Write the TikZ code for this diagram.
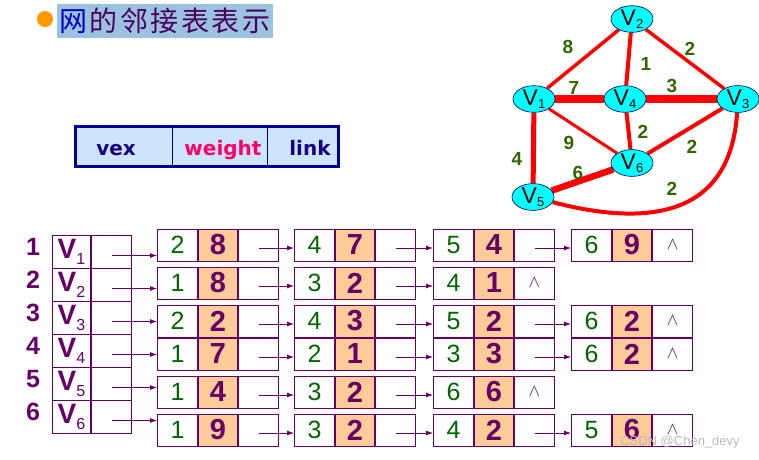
\documentclass[tikz,border=0pt]{standalone}
\usepackage{fontspec}
\setmainfont{Liberation Sans}
\newfontfamily\cjkfont{Noto Sans CJK SC}
\newfontfamily\legfont{DejaVu Sans}
\usetikzlibrary{shapes.geometric,arrows.meta,backgrounds}
\definecolor{pur}{RGB}{102,0,102}
\definecolor{grn}{RGB}{0,102,0}
\definecolor{org}{RGB}{255,204,153}
\definecolor{elab}{RGB}{51,102,0}
\definecolor{cyanv}{RGB}{0,255,255}
\definecolor{navy}{RGB}{0,0,153}
\definecolor{legtext}{RGB}{26,0,128}
\definecolor{legfill}{RGB}{204,228,252}
\definecolor{titlebg}{RGB}{155,194,222}
\definecolor{titletxt}{RGB}{75,0,95}
\definecolor{titleblue}{RGB}{0,0,204}
\definecolor{pinkw}{RGB}{255,0,102}
\definecolor{dotorange}{RGB}{255,153,0}
\definecolor{wedgec}{RGB}{80,0,140}
\newcommand\tch[1]{\makebox[30.5pt]{#1}}
\newcommand\ebox[6]{%
  \node[adjc] (#1a) at (#2,#3+16) {#4};
  \node[wtc] (#1b) at (#1a.east) {#5};
  \node[lnkc] (#1c) at (#1b.east) {#6};
}
\newcommand\earr[2]{\draw[arr] ([yshift=-3pt]#1c.center) -- ([yshift=-3pt]#2a.west);}
\newcommand\gsub[1]{V\raisebox{-3pt}{\fontsize{13}{13}\selectfont #1}}
\begin{document}
\begin{tikzpicture}[x=1pt,y=-1pt,
  cell/.style={draw=pur, line width=1pt, minimum width=40pt, minimum height=32pt, inner sep=0pt, anchor=west},
  adjc/.style={cell, text=grn, font=\fontsize{25}{25}\selectfont},
  wtc/.style={cell, fill=org, minimum width=39pt, text=pur, font=\bfseries\fontsize{29}{29}\selectfont},
  lnkc/.style={cell, text=wedgec, font=\fontsize{19}{19}\selectfont},
  arr/.style={draw=pur, line width=0.8pt, -{Latex[length=7pt,width=5pt]}},
  vname/.style={draw=pur, line width=1pt, minimum width=38pt, minimum height=33pt, inner sep=0pt, text=pur, anchor=north west},
  vlink/.style={draw=pur, line width=1pt, minimum width=40pt, minimum height=33pt, inner sep=0pt, anchor=west},
  idx/.style={text=pur, font=\bfseries\fontsize{25}{25}\selectfont},
  gv/.style={ellipse, draw=navy!60!black, line width=0.6pt, fill=cyanv, minimum width=42pt, minimum height=26pt, inner sep=0pt, font=\fontsize{23}{23}\selectfont},
  elabel/.style={text=elab, font=\bfseries\fontsize{19}{19}\selectfont},
  redge/.style={draw=red, line width=#1},
  legtxt/.style={font=\legfont\bfseries\fontsize{20}{20}\selectfont, anchor=base, inner sep=0pt}
]
\useasboundingbox (0,0) rectangle (759,459);

% title
\fill[titlebg] (57,4) rectangle (273,38);
\fill[dotorange] (45,19) circle (8);
\node[font=\cjkfont\fontsize{28}{28}\selectfont, anchor=west, inner sep=0pt] (title) at (58,21)
  {\textcolor{titleblue}{\tch{网}}\textcolor{titletxt}{\tch{的}\tch{邻}\tch{接}\tch{表}\tch{表}\tch{示}}};

% legend
\node[draw=navy, line width=3pt, fill=legfill, minimum width=263pt, minimum height=40pt, inner sep=0pt] (legend) at (207,146) {};
\draw[navy, line width=1pt] (172,127.5) -- (172,164.5);
\draw[navy, line width=1pt] (267,127.5) -- (267,164.5);
\node[legtxt, text=legtext] (tvex) at (116,155) {vex};
\node[legtxt, text=pinkw] (twt) at (223,155) {weight};
\node[legtxt, text=legtext] (tlink) at (310,155) {link};

% graph
\node[gv] (g2) at (632,19) {\gsub{2}};
\node[gv] (g1) at (534,99) {\gsub{1}};
\node[gv] (g4) at (625,99) {\gsub{4}};
\node[gv] (g3) at (738,99) {\gsub{3}};
\node[gv] (g6) at (632,163) {\gsub{6}};
\node[gv] (g5) at (533,197) {\gsub{5}};
\begin{scope}[on background layer]
\draw[redge=3.5pt] (g2) -- (g1);
\draw[redge=3.5pt] (g2) -- (g3);
\draw[redge=4pt] (g2) -- (g4);
\draw[redge=7.5pt] (g1) -- (g4);
\draw[redge=7.5pt] (g4) -- (g3);
\draw[redge=3pt] (g1) -- (g6);
\draw[redge=4pt] (g4) -- (g6);
\draw[redge=4pt] (g6) -- (g3);
\draw[redge=5pt] (g1) -- (g5);
\draw[redge=6.5pt] (g5) -- (g6);
\draw[redge=4pt] (g5) .. controls (640,225) and (730,222) .. (g3);
\end{scope}
\node[elabel] (l8) at (568,47) {8};
\node[elabel] (l1) at (646,64) {1};
\node[elabel] (l2a) at (690,49) {2};
\node[elabel] (l7) at (574,88) {7};
\node[elabel] (l3) at (672,86) {3};
\node[elabel] (l2b) at (643,132) {2};
\node[elabel] (l9) at (569,143) {9};
\node[elabel] (l2c) at (692,147) {2};
\node[elabel] (l4) at (517,159) {4};
\node[elabel] (l6) at (578,173) {6};
\node[elabel] (l2d) at (672,189) {2};

% vertex table
\foreach \i in {1,...,6} {
  \node[idx] (n\i) at (33,{247+33*(\i-1)}) {\i};
  \node[vname] (tv\i) at (52,{235+33*(\i-1)}) {{\bfseries\fontsize{28}{28}\selectfont V}\raisebox{-6pt}{\fontsize{16}{16}\selectfont\i}};
  \node[vlink] (tl\i) at (tv\i.east) {};
  \coordinate (s\i) at ([yshift=-3.5pt]tl\i.center);
}

% edge lists
\ebox{r1-1}{157}{229}{2}{8}{}
\ebox{r1-2}{294}{229}{4}{7}{}
\ebox{r1-3}{433}{229}{5}{4}{}
\ebox{r1-4}{571}{229}{6}{9}{$\wedge$}
\ebox{r2-1}{157}{267}{1}{8}{}
\ebox{r2-2}{294}{267}{3}{2}{}
\ebox{r2-3}{433}{267}{4}{1}{$\wedge$}
\ebox{r3-1}{157}{305}{2}{2}{}
\ebox{r3-2}{294}{305}{4}{3}{}
\ebox{r3-3}{433}{305}{5}{2}{}
\ebox{r3-4}{571}{305}{6}{2}{$\wedge$}
\ebox{r4-1}{157}{338}{1}{7}{}
\ebox{r4-2}{294}{338}{2}{1}{}
\ebox{r4-3}{433}{338}{3}{3}{}
\ebox{r4-4}{571}{338}{6}{2}{$\wedge$}
\ebox{r5-1}{157}{376}{1}{4}{}
\ebox{r5-2}{294}{376}{3}{2}{}
\ebox{r5-3}{433}{376}{6}{6}{$\wedge$}
\ebox{r6-1}{157}{414}{1}{9}{}
\ebox{r6-2}{294}{414}{3}{2}{}
\ebox{r6-3}{433}{414}{4}{2}{}
\ebox{r6-4}{571}{414}{5}{6}{$\wedge$}

\foreach \i in {1,...,6} {
  \draw[arr] (s\i) -- (s\i -| r\i-1a.west);
}
\earr{r1-1}{r1-2}\earr{r1-2}{r1-3}\earr{r1-3}{r1-4}
\earr{r2-1}{r2-2}\earr{r2-2}{r2-3}
\earr{r3-1}{r3-2}\earr{r3-2}{r3-3}\earr{r3-3}{r3-4}
\earr{r4-1}{r4-2}\earr{r4-2}{r4-3}\earr{r4-3}{r4-4}
\earr{r5-1}{r5-2}\earr{r5-2}{r5-3}
\earr{r6-1}{r6-2}\earr{r6-2}{r6-3}\earr{r6-3}{r6-4}

\node[text=gray!55, font=\fontsize{13}{13}\selectfont] (wm) at (680,442) {CSDN @Chen\_devy};
\end{tikzpicture}
\end{document}
